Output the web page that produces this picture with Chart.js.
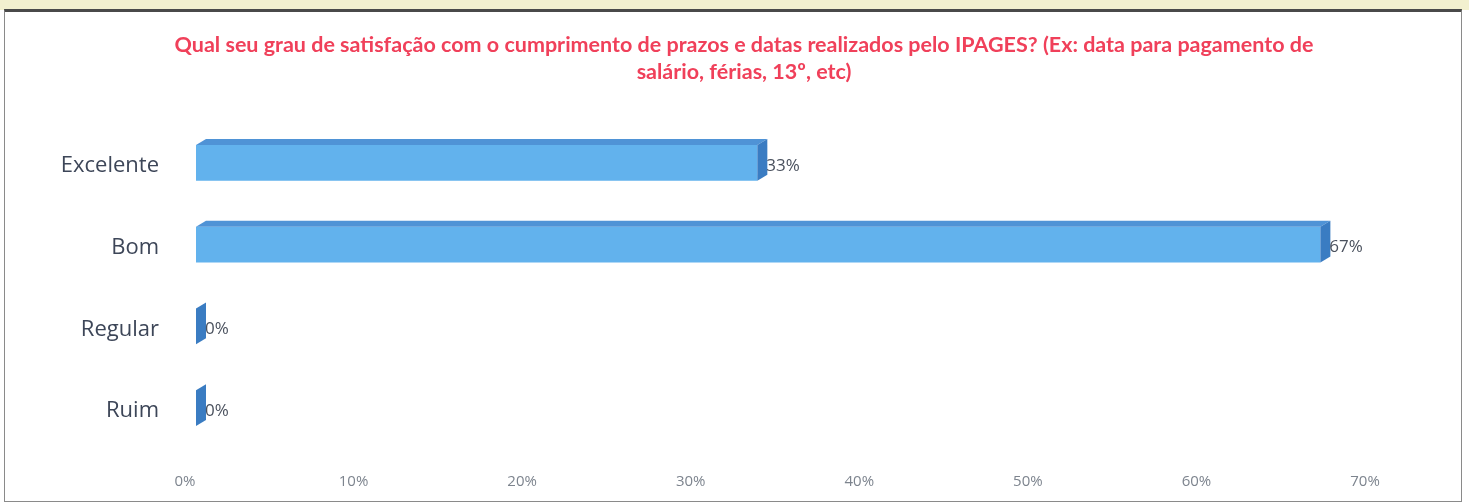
<!DOCTYPE html>
<html>
<head>
<meta charset="utf-8">
<script src="https://cdn.jsdelivr.net/npm/chart.js"></script>
<style>
    body { margin: 0; background: #ffffff; }
    .top-strip { position: absolute; left: 0; top: 0; width: 1469px; height: 10px; background: #f2f0cf; }
    .frame {
        position: absolute; left: 4px; top: 9px; width: 1456px; height: 489px;
        border: 1px solid #8a8a8a; border-top: 3px solid #4a4a4a; background: #fff;
    }
    .chart-box { position: absolute; left: 6px; top: 12px; width: 1455px; height: 487px; }
</style>
</head>
<body>
<div class="top-strip"></div>
<div class="frame"></div>
<div class="chart-box"><canvas id="satisfacaoChart"></canvas></div>

<script>
    // Dados
    const categorias = ["Excelente", "Bom", "Regular", "Ruim"];
    const percentuais = [33.3, 66.7, 0, 0];
    const rotulos = ["33%", "67%", "0%", "0%"];
    const tituloLinhas = [
        "Qual seu grau de satisfação com o cumprimento de prazos e datas realizados pelo IPAGES? (Ex: data para pagamento de",
        "salário, férias, 13º, etc)"
    ];
    const eixoMax = 70;
    const eixoPasso = 10;

    // Título centrado na moldura inteira (o título do Chart.js centraria só entre os paddings)
    const tituloCentrado = {
        id: 'tituloCentrado',
        afterDraw(chart) {
            const ctx = chart.ctx;
            ctx.save();
            ctx.fillStyle = '#f0405a';
            ctx.font = 'bold 21.5px Lato, sans-serif';
            ctx.textAlign = 'center';
            ctx.textBaseline = 'middle';
            tituloLinhas.forEach((linha, i) => ctx.fillText(linha, 738, 33 + i * 27));
            ctx.restore();
        }
    };

    // Faces de topo e lateral para imitar a barra 3D, mais os rótulos de valor
    const barra3d = {
        id: 'barra3d',
        afterDatasetsDraw(chart) {
            const ctx = chart.ctx;
            const meta = chart.getDatasetMeta(0);
            const dx = 10, dy = -6;
            ctx.save();
            meta.data.forEach((bar, i) => {
                const top = bar.y - bar.height / 2;
                const bottom = bar.y + bar.height / 2;
                const left = bar.base;
                const right = bar.x;
                // topo
                ctx.fillStyle = '#4f93d6';
                ctx.beginPath();
                ctx.moveTo(left, top);
                ctx.lineTo(left + dx, top + dy);
                ctx.lineTo(right + dx, top + dy);
                ctx.lineTo(right, top);
                ctx.closePath();
                ctx.fill();
                // lateral
                ctx.fillStyle = '#3a7cc2';
                ctx.beginPath();
                ctx.moveTo(right, top);
                ctx.lineTo(right + dx, top + dy);
                ctx.lineTo(right + dx, bottom + dy);
                ctx.lineTo(right, bottom);
                ctx.closePath();
                ctx.fill();
                // rótulo
                ctx.fillStyle = '#4a515e';
                ctx.font = '17px "Open Sans", sans-serif';
                ctx.textAlign = 'left';
                ctx.textBaseline = 'middle';
                ctx.fillText(rotulos[i], right + dx - 1, bar.y + 3);
            });
            ctx.restore();
        }
    };

    new Chart(document.getElementById('satisfacaoChart'), {
        type: 'bar',
        data: {
            labels: categorias,
            datasets: [{
                data: percentuais,
                backgroundColor: '#62b2ed',
                borderWidth: 0,
                barPercentage: 0.44,
                categoryPercentage: 1
            }]
        },
        options: {
            indexAxis: 'y',
            responsive: true,
            maintainAspectRatio: false,
            animation: false,
            layout: { padding: { left: 0, right: 85, top: 110, bottom: 0 } },
            scales: {
                x: {
                    min: 0, max: eixoMax,
                    grid: { display: false },
                    border: { display: false },
                    afterFit: s => { s.height = 50; },
                    ticks: {
                        stepSize: eixoPasso,
                        padding: 16,
                        labelOffset: -11,
                        color: '#7d848e',
                        font: { size: 15, family: '"Open Sans", sans-serif' },
                        callback: v => v + '%'
                    }
                },
                y: {
                    grid: { display: false },
                    border: { display: false },
                    afterFit: s => { s.width = 190; },
                    ticks: {
                        padding: 29,
                        labelOffset: 3,
                        color: '#3d4658',
                        font: { size: 22, family: '"Open Sans", sans-serif' }
                    }
                }
            },
            plugins: {
                legend: { display: false },
                tooltip: { enabled: false },
                title: { display: false }
            }
        },
        plugins: [barra3d, tituloCentrado]
    });
</script>
</body>
</html>
